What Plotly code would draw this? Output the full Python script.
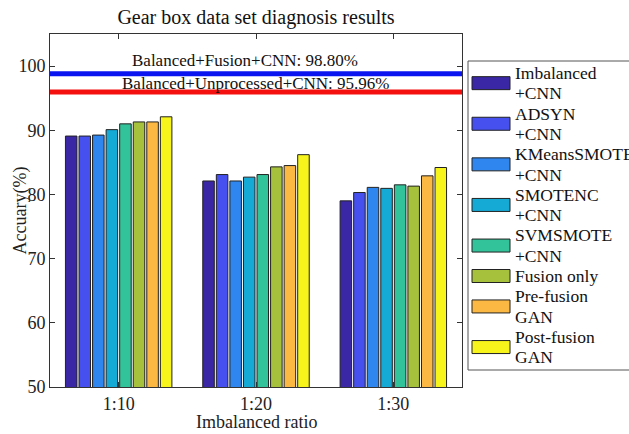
import plotly.graph_objects as go

# ---------------- data ----------------
categories = ["1:10", "1:20", "1:30"]
series_names = [
    "Imbalanced<br>+CNN",
    "ADSYN<br>+CNN",
    "KMeansSMOTE<br>+CNN",
    "SMOTENC<br>+CNN",
    "SVMSMOTE<br>+CNN",
    "Fusion only",
    "Pre-fusion<br>GAN",
    "Post-fusion<br>GAN",
]
imbalanced_cnn = [89.1, 82.1, 79.0]
adsyn_cnn = [89.1, 83.1, 80.3]
kmeanssmote_cnn = [89.25, 82.1, 81.1]
smotenc_cnn = [90.1, 82.7, 80.95]
svmsmote_cnn = [91.0, 83.1, 81.5]
fusion_only = [91.3, 84.3, 81.3]
pre_fusion_gan = [91.3, 84.5, 82.9]
post_fusion_gan = [92.1, 86.2, 84.2]
series_values = [imbalanced_cnn, adsyn_cnn, kmeanssmote_cnn, smotenc_cnn,
                 svmsmote_cnn, fusion_only, pre_fusion_gan, post_fusion_gan]

balanced_fusion_cnn = 98.80
balanced_unprocessed_cnn = 95.96
y_ticks = [50, 60, 70, 80, 90, 100]

# ---------------- style ----------------
colors = ["#3a27a6", "#4550ef", "#2e86ee", "#15a9d6", "#33c39a",
          "#a6c13b", "#fbb842", "#f6f41a"]
FONT = "Liberation Serif"
W, H = 629, 434
L, R, T, B = 50, 167, 34, 47
PW, PH = W - L - R, H - T - B

def px(x):
    return (x - L) / PW

def py(y):
    return (H - B - y) / PH

fig = go.Figure()
for name, vals, col in zip(series_names, series_values, colors):
    fig.add_trace(go.Bar(
        x=categories, y=vals, name=name,
        marker=dict(color=col, line=dict(color="#222222", width=1)),
        showlegend=False,
    ))

# reference lines
for val, col in [(balanced_fusion_cnn, "#0a14f0"), (balanced_unprocessed_cnn, "#f51010")]:
    fig.add_shape(type="line", xref="x domain", yref="y", x0=0, x1=1,
                  y0=val, y1=val, line=dict(color=col, width=5), layer="above")

fig.add_annotation(x=0.92, y=balanced_fusion_cnn + 2.1, xref="x", yref="y",
                   text=f"Balanced+Fusion+CNN: {balanced_fusion_cnn:.2f}%",
                   showarrow=False, font=dict(family=FONT, size=17, color="#111"),
                   yanchor="middle")
fig.add_annotation(x=1.0, y=balanced_unprocessed_cnn + 1.35, xref="x", yref="y",
                   text=f"Balanced+Unprocessed+CNN: {balanced_unprocessed_cnn:.2f}%",
                   showarrow=False, font=dict(family=FONT, size=17, color="#111"),
                   yanchor="middle")

# axis titles
fig.add_annotation(x=0.5, y=py(433), xref="paper", yref="paper",
                   text="Imbalanced ratio", showarrow=False, borderpad=0,
                   xanchor="center", yanchor="bottom",
                   font=dict(family=FONT, size=18, color="#222"))
fig.add_annotation(x=px(20), y=0.5, xref="paper", yref="paper",
                   text="Accuary(%)", showarrow=False, textangle=-90,
                   xanchor="center", yanchor="middle",
                   font=dict(family=FONT, size=18, color="#222"))

# custom legend
fig.add_shape(type="rect", xref="paper", yref="paper",
              x0=px(468), x1=px(640), y0=py(370), y1=py(61),
              line=dict(color="#555", width=1), fillcolor="white", layer="above")
line_y = 73.0
step = 20.3
for name, col in zip(series_names, colors):
    lines = name.split("<br>")
    ys = [line_y + step * i for i in range(len(lines))]
    cy = sum(ys) / len(ys)
    fig.add_shape(type="rect", xref="paper", yref="paper",
                  x0=px(472), x1=px(510), y0=py(cy + 6.5), y1=py(cy - 6.5),
                  fillcolor=col, line=dict(color="#222", width=1), layer="above")
    for t, yy in zip(lines, ys):
        fig.add_annotation(x=px(513), y=py(yy), xref="paper", yref="paper",
                           text=t, showarrow=False, xanchor="left", yanchor="middle",
                           font=dict(family=FONT, size=17.5, color="#111"))
    line_y += step * len(lines)

fig.update_layout(
    width=W, height=H,
    margin=dict(l=L, r=R, t=T, b=B, autoexpand=False),
    paper_bgcolor="white", plot_bgcolor="white",
    barmode="group", bargap=0.21, bargroupgap=0.15,
    font=dict(family=FONT, size=17, color="#222"),
    title=dict(text="Gear box data set diagnosis results", x=0.5, xref="paper",
               xanchor="center", y=1 - 17 / H, yanchor="middle", yref="container",
               font=dict(family=FONT, size=20, color="#111")),
    showlegend=False,
)
fig.update_xaxes(showline=True, mirror="ticks", linecolor="#333", linewidth=1,
                 ticks="inside", ticklen=5, tickcolor="#333",
                 range=[-0.5, 2.5], showgrid=False,
                 tickfont=dict(family=FONT, size=18, color="#222"))
fig.update_yaxes(showline=True, mirror="ticks", linecolor="#333", linewidth=1,
                 ticks="inside", ticklen=5, tickcolor="#333",
                 range=[50, 105], tickvals=y_ticks, showgrid=False, zeroline=False,
                 tickfont=dict(family=FONT, size=18, color="#222"))

fig.write_html("out.html", config={"displayModeBar": False},
               post_script="document.body.style.margin='0';document.body.style.overflow='hidden';")
